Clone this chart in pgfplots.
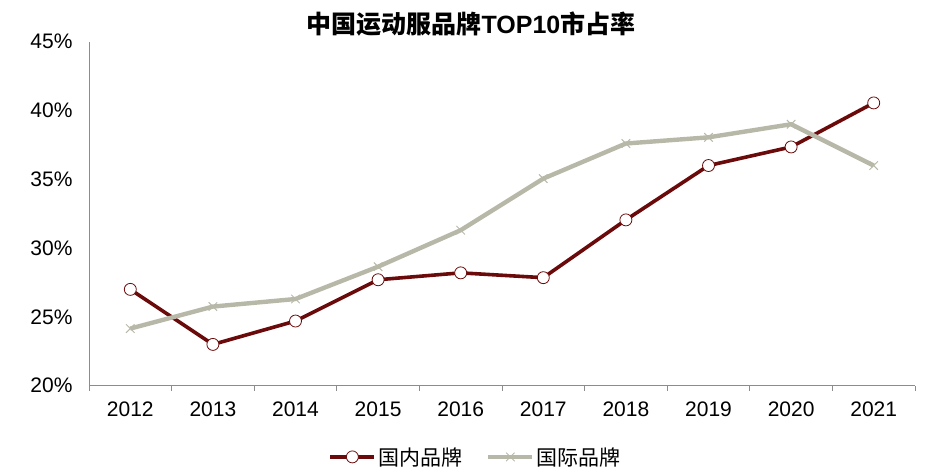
\documentclass[border=0pt]{standalone}
\usepackage{pgfplots}
\pgfplotsset{compat=1.18}
\usepackage{fontspec}
\setmainfont{Liberation Sans}
\newfontfamily\cjk{Noto Sans CJK SC}
\definecolor{dom}{HTML}{6B0A0A}
\definecolor{intl}{HTML}{B8B8A8}
\definecolor{axgray}{HTML}{8C8C8C}
\begin{document}
\begin{tikzpicture}[x=1pt,y=1pt]
\path[use as bounding box] (0,0) rectangle (951,473);
\begin{axis}[
  at={(89pt,87.3pt)}, anchor=south west,
  scale only axis, width=826pt, height=344pt,
  xmin=-0.5, xmax=9.5, ymin=20, ymax=45,
  axis x line=bottom, axis y line=left,
  axis line style={-, axgray, line width=0.8pt},
  xtick={0,...,9},
  xticklabels={2012,2013,2014,2015,2016,2017,2018,2019,2020,2021},
  minor xtick={-0.5,0.5,...,9.5},
  major tick length=0pt, minor tick length=5pt,
  tick align=outside,
  minor tick style={axgray, line width=0.8pt},
  ytick={20,25,...,45},
  yticklabel={\pgfmathprintnumber{\tick}\%},
  /pgf/number format/assume math mode=true,
  ticklabel style={font=\fontsize{21}{24}\selectfont, black},
  xticklabel style={yshift=-13pt},
  yticklabel style={xshift=-13pt},
  legend style={at={(rel axis cs:0.468,-0.207)}, anchor=center, draw=none, fill=none,
    legend columns=2, font=\cjk\fontsize{21}{24}\selectfont,
    /tikz/every even column/.append style={column sep=22pt}},
  legend image code/.code={\draw[mark repeat=2,mark phase=2,#1] plot coordinates {(0pt,0pt) (22pt,0pt) (44pt,0pt)};},
  clip=false,
]
\addplot[dom, line width=3.6pt, mark=*, mark size=6pt, mark options={fill=white, draw=dom, line width=0.8pt}]
 coordinates {(0,27.0) (1,23.0) (2,24.7) (3,27.7) (4,28.2) (5,27.85) (6,32.05) (7,36.0) (8,37.35) (9,40.55)};
\addlegendentry{国内品牌}
\addplot[intl, line width=4.4pt, mark=x, mark size=6pt, mark options={draw=intl, line width=1pt}]
 coordinates {(0,24.15) (1,25.75) (2,26.3) (3,28.65) (4,31.3) (5,35.05) (6,37.6) (7,38.05) (8,39.0) (9,36.0)};
\addlegendentry{国际品牌}
\end{axis}
\node at (471,449) {\fontsize{25}{28}\selectfont\bfseries{\cjk 中国运动服品牌}TOP10{\cjk 市占率}};
\end{tikzpicture}
\end{document}
